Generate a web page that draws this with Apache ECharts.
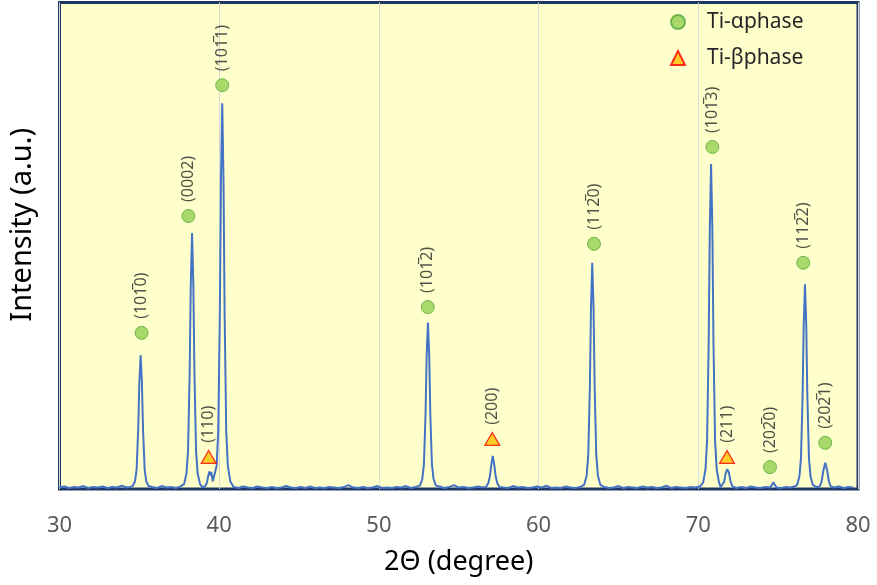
<!DOCTYPE html>
<html>
<head>
<meta charset="utf-8">
<script src="https://cdn.jsdelivr.net/npm/echarts@6/dist/echarts.min.js"></script>
<style>
html,body{margin:0;padding:0;background:#ffffff;}
#chart{width:877px;height:585px;}
</style>
</head>
<body>
<div id="chart"></div>
<script>
// ---- Data ----
const xTicks = [30, 40, 50, 60, 70, 80];

const twoTheta = [
30.0,30.3,30.6,30.9,31.2,31.5,31.8,32.1,32.4,32.7,33.0,33.3,33.6,33.9,34.2,34.4,
34.58,34.73,34.83,34.93,35.0,35.08,35.16,35.23,35.33,35.43,35.58,
35.8,36.1,36.4,36.7,37.0,37.3,37.55,
37.8,37.95,38.05,38.15,38.22,38.30,38.38,38.45,38.55,38.65,38.8,
38.95,39.1,39.22,39.32,39.38,39.42,39.46,39.5,39.55,39.6,
39.69,39.84,39.94,40.04,40.11,40.19,40.27,40.34,40.44,40.54,40.69,
40.9,41.2,41.5,41.8,42.1,42.4,42.7,43.0,43.3,43.6,43.9,44.2,44.5,44.8,45.1,45.4,45.7,46.0,46.3,46.6,46.9,
47.2,47.5,47.8,48.1,48.4,48.7,49.0,49.3,49.6,49.9,50.2,50.5,50.8,51.1,51.4,51.7,52.0,52.3,
52.57,52.72,52.82,52.92,52.99,53.07,53.15,53.22,53.32,53.42,53.57,
53.8,54.1,54.4,54.7,55.0,55.3,55.6,55.9,56.2,56.5,
56.7,56.85,56.95,57.03,57.13,57.23,57.31,57.41,57.56,
57.8,58.1,58.4,58.7,59.0,59.3,59.6,59.9,60.2,60.5,60.8,61.1,61.4,61.7,62.0,62.3,62.6,
62.86,63.01,63.11,63.21,63.28,63.36,63.44,63.51,63.61,63.71,63.86,
64.1,64.4,64.7,65.0,65.3,65.6,65.9,66.2,66.5,66.8,67.1,67.4,67.7,68.0,68.3,68.6,68.9,69.2,69.5,69.8,70.1,
70.3,70.45,70.55,70.65,70.72,70.8,70.88,70.95,71.05,71.15,71.3,
71.4,71.5,71.62,71.72,71.82,71.92,72.02,72.15,
72.4,72.7,73.0,73.3,73.6,73.9,74.2,
74.5,74.6,74.7,74.8,74.9,
75.2,75.5,75.8,76.0,
76.18,76.33,76.43,76.53,76.6,76.68,76.76,76.83,76.93,77.03,77.18,
77.4,77.6,77.72,77.83,77.95,78.07,78.18,78.3,
78.5,78.8,79.1,79.4,79.7
];

const intensity = [
0.3,0.5,0.2,0.4,0.3,0.6,0.2,0.4,0.3,0.5,0.2,0.4,0.3,0.7,0.3,0.4,
0.6,1.6,4.1,12.4,22,27.5,22,12.4,4.1,1.6,0.6,
0.4,0.2,0.6,0.3,0.4,0.2,0.5,
1.0,3.2,7.9,23.7,42,52.6,42,23.7,7.9,3.2,1.0,
0.4,0.5,1.2,2.8,3.6,3.9,2.8,3.5,2.5,1.6,
1.6,4.8,11.9,35.7,63.4,79.3,63.4,35.7,11.9,4.8,1.6,
0.4,0.2,0.5,0.3,0.2,0.5,0.3,0.2,0.4,0.2,0.3,0.6,0.3,0.2,0.4,0.2,0.5,0.2,0.3,0.2,0.4,
0.3,0.2,0.4,0.8,0.3,0.2,0.4,0.2,0.3,0.6,0.2,0.3,0.2,0.4,0.3,0.6,0.2,0.4,
0.7,2.1,5.1,15.4,27.4,34.2,27.4,15.4,5.1,2.1,0.7,
0.5,0.2,0.4,0.8,0.3,0.4,0.2,0.3,0.5,0.3,
0.4,1.2,2.6,4.8,6.8,4.8,2.6,1.2,0.4,
0.3,0.2,0.6,0.3,0.4,0.2,0.3,0.5,0.3,0.7,0.2,0.3,0.2,0.5,0.3,0.2,0.4,
0.9,2.8,7.0,20.9,37.2,46.5,37.2,20.9,7.0,2.8,0.9,
0.4,0.2,0.3,0.6,0.2,0.4,0.3,0.2,0.5,0.3,0.4,0.2,0.3,0.7,0.2,0.4,0.3,0.2,0.4,0.3,0.5,
1.3,4.0,10,30,53.4,66.8,53.4,30,10,4.0,1.3,
0.4,0.5,1.5,3.3,4.1,3.3,1.5,0.5,
0.2,0.4,0.2,0.5,0.3,0.2,0.4,
0.3,0.8,1.4,0.8,0.3,
0.2,0.4,0.3,0.5,
0.8,2.5,6.3,18.9,33.7,42.1,33.7,18.9,6.3,2.5,0.8,
0.4,0.5,1.5,3.8,5.4,3.8,1.5,0.5,
0.3,0.5,0.2,0.4,0.3
];

// Ti-α phase markers: position, height, Miller index label
const alphaTheta  = [35.14, 38.07, 40.19, 53.06, 63.47, 70.88, 74.49, 76.57, 77.95];
const alphaHeight = [32.1, 56.1, 83.0, 37.4, 50.4, 70.3, 4.5, 46.5, 9.5];
const alphaLabels = ['(101\u03050)', '(0002)', '(101\u03051)', '(101\u03052)', '(112\u03050)', '(101\u03053)', '(202\u03050)', '(112\u03052)', '(202\u03051)'];

// Ti-β phase markers
const betaTheta  = [39.34, 57.10, 71.80];
const betaHeight = [6.6, 10.3, 6.6];
const betaLabels = ['(110)', '(200)', '(211)'];

// ---- Build chart ----
const FONT = 'Noto Sans';
const lineData = twoTheta.map((t, i) => [t, intensity[i]]);
const alphaData = alphaTheta.map((t, i) => ({ value: [t, alphaHeight[i]], name: alphaLabels[i] }));
const betaData = betaTheta.map((t, i) => ({ value: [t, betaHeight[i]], name: betaLabels[i] }));

const peakLabel = {
  show: true,
  position: 'top',
  rotate: 90,
  align: 'left',
  verticalAlign: 'middle',
  distance: 5,
  offset: [2, 0],
  formatter: p => p.name,
  color: '#262626',
  fontSize: 16,
  fontFamily: FONT
};

const chart = echarts.init(document.getElementById('chart'), null, { renderer: 'canvas' });
chart.setOption({
  animation: false,
  backgroundColor: '#ffffff',
  grid: {
    show: true,
    left: 59.5, right: 19, top: 2.5, bottom: 96,
    backgroundColor: '#FFFFCC',
    borderColor: '#1F3864',
    borderWidth: 3
  },
  legend: {
    orient: 'vertical',
    left: 670, top: 11.5,
    padding: 0,
    itemWidth: 14, itemHeight: 14,
    itemGap: 15,
    textStyle: { fontSize: 21, color: '#262626', fontFamily: FONT, padding: [0, 0, 0, 17] },
    data: ['Ti-\u03B1phase', 'Ti-\u03B2phase']
  },
  xAxis: {
    type: 'value',
    min: xTicks[0], max: xTicks[xTicks.length - 1], interval: 10,
    axisLine: { show: false },
    axisTick: { show: false },
    axisLabel: { fontSize: 22, color: '#595959', margin: 26, fontFamily: FONT },
    splitLine: { show: true, lineStyle: { color: '#D9D9D9', width: 1 } },
    name: '2\u0398 (degree)',
    nameLocation: 'middle',
    nameGap: 60,
    nameTextStyle: { fontSize: 27, color: '#000000', fontFamily: FONT }
  },
  yAxis: {
    type: 'value',
    min: 0, max: 100,
    axisLine: { show: false },
    axisTick: { show: false },
    axisLabel: { show: false },
    splitLine: { show: false },
    name: 'Intensity (a.u.)',
    nameLocation: 'middle',
    nameGap: 22,
    nameTextStyle: { fontSize: 29, color: '#000000', fontFamily: FONT, padding: [0, 0, 0, 42] }
  },
  series: [
    {
      type: 'line',
      data: lineData,
      showSymbol: false,
      lineStyle: { color: '#4472C4', width: 2 },
      itemStyle: { color: '#4472C4' },
      z: 2,
      silent: true
    },
    {
      name: 'Ti-\u03B1phase',
      type: 'scatter',
      data: alphaData,
      symbol: 'circle',
      symbolSize: 13,
      itemStyle: { color: '#92D050', borderColor: '#55A83C', borderWidth: 1 },
      label: peakLabel,
      z: 3
    },
    {
      name: 'Ti-\u03B2phase',
      type: 'scatter',
      data: betaData,
      symbol: 'triangle',
      symbolSize: [15, 13],
      itemStyle: { color: '#FFC000', borderColor: '#FF0000', borderWidth: 1.2 },
      label: peakLabel,
      z: 3
    }
  ]
});
</script>
</body>
</html>
